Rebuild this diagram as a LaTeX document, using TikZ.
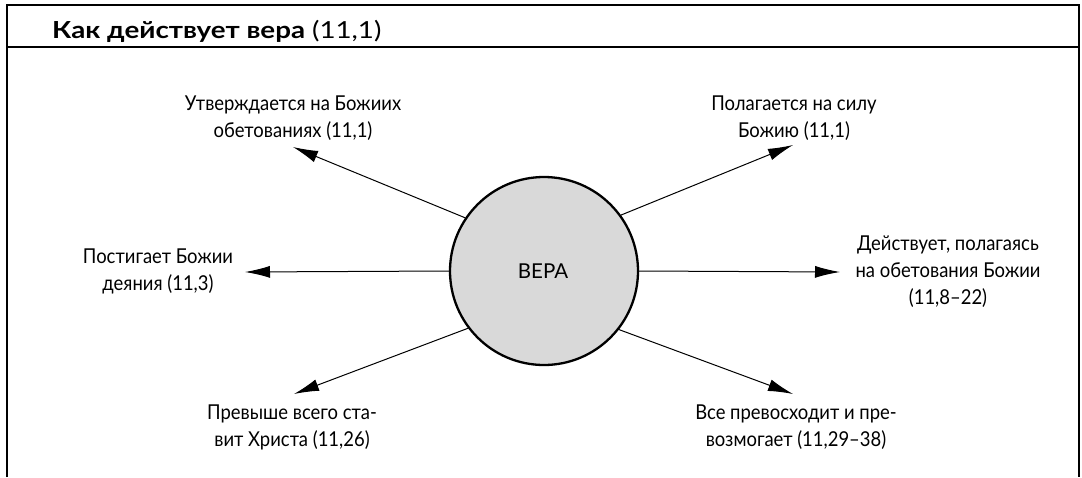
\documentclass[tikz,border=0pt]{standalone}
\usepackage{fontspec}
\setmainfont{Lato}
\newfontfamily\bodyfont[FakeStretch=0.9,Ligatures=TeX]{Lato}
\newfontfamily\headfont[FakeStretch=1.18,Ligatures=TeX]{Lato}
\usetikzlibrary{arrows.meta}
\begin{document}
\begin{tikzpicture}[x=1pt,y=-1pt,
  lbl/.style={font=\bodyfont\fontsize{20.5}{27}\selectfont, align=center, inner sep=0pt, anchor=base},
  arr/.style={line width=1pt, -{Latex[length=25pt,width=12pt]}},
  frame/.style={line width=2.2pt}]
\useasboundingbox (0,0) rectangle (1082,477);
% frame
\draw[frame] (7,477) -- (7,5) -- (1079,5) -- (1079,477);
\draw[frame] (7,47) -- (1079,47);
\node[anchor=base west, inner sep=0pt, font=\headfont\fontsize{23.5}{28}\selectfont] (title) at (52,38) {\textbf{Как действует вера} (11,1)};
% center circle
\node[circle, draw, line width=2.3pt, fill=black!15, minimum size=188pt, inner sep=0pt] (c) at (544,271) {};
\node[inner sep=0pt, anchor=base, font=\fontsize{20.5}{24}\selectfont] (vera) at (543,278) {ВЕРА};
% labels (anchored at the baseline of the last line)
\node[lbl] (ul) at (293,137) {Утверждается на Божиих\\обетованиях (11,1)};
\node[lbl] (ur) at (794,137) {Полагается на силу\\Божию (11,1)};
\node[lbl] (l) at (158,290) {Постигает Божии\\деяния (11,3)};
\node[lbl] (r) at (948,304) {Действует, полагаясь\\на обетования Божии\\(11,8–22)};
\node[lbl] (ll) at (292,446) {Превыше всего ста-\\вит Христа (11,26)};
\node[lbl] (lr) at (796,446) {Все превосходит и пре-\\возмогает (11,29–38)};
% arrow tips
\coordinate (tul) at (293,147);
\coordinate (tur) at (793,145);
\coordinate (tl) at (245,272);
\coordinate (tr) at (840,272);
\coordinate (tll) at (294,394);
\coordinate (tlr) at (793,394);
\draw[arr] (c.146) -- (tul);
\draw[arr] (c.36) -- (tur);
\draw[arr] (c.west) -- (tl);
\draw[arr] (c.east) -- (tr);
\draw[arr] (c.217) -- (tll);
\draw[arr] (c.322) -- (tlr);
\end{tikzpicture}
\end{document}
